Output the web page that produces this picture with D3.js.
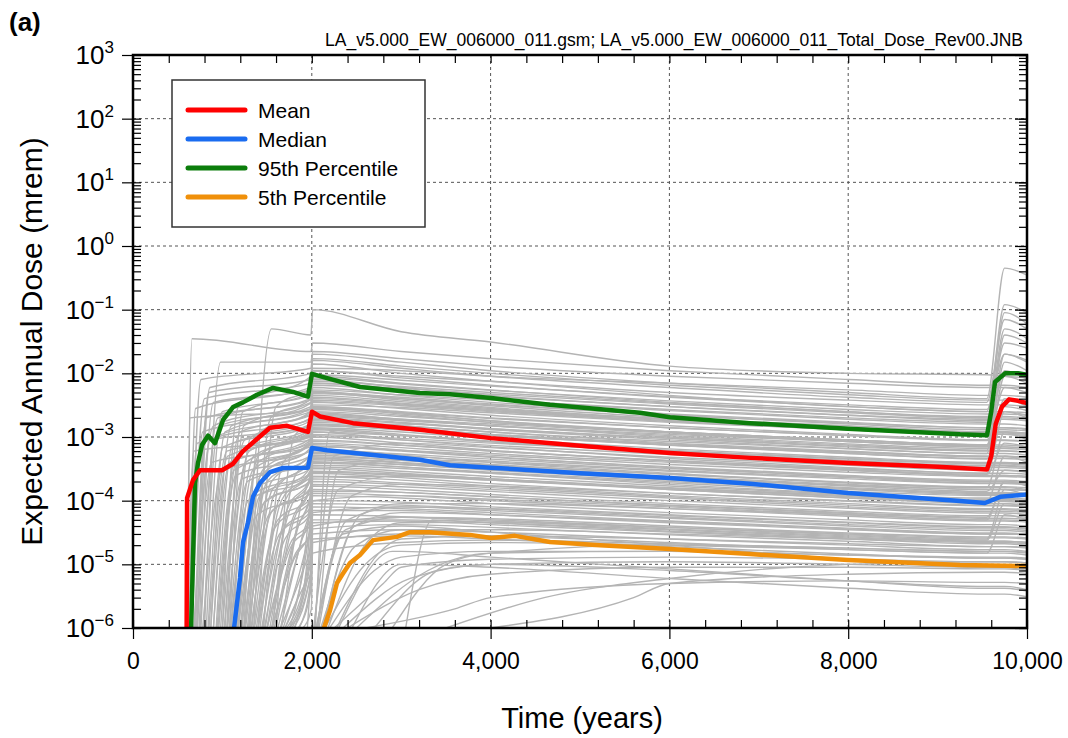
<!DOCTYPE html>
<html>
<head>
<meta charset="utf-8">
<script src="https://cdn.jsdelivr.net/npm/d3@7"></script>
<style>
  body { margin: 0; background: #fff; }
  svg { font-family: "Liberation Sans", Arial, sans-serif; }
</style>
</head>
<body>
<div id="chart"></div>
<script>
// Statistics of the expected annual dose (mrem) vs time (years)
const meanYears = [600, 605, 671, 749, 996, 1119, 1230, 1342, 1532, 1723, 1957, 2002, 2092, 2461, 3210, 4004, 5000, 6007, 6902, 7998, 9000, 9553, 9600, 9650, 9720, 9800, 9900, 10000];
const meanDose = [1e-6, 1.1e-4, 2.1e-4, 3.0e-4, 3.0e-4, 3.8e-4, 6e-4, 8.2e-4, 1.4e-3, 1.5e-3, 1.2e-3, 2.5e-3, 2.1e-3, 1.65e-3, 1.3e-3, 9.6e-4, 7.3e-4, 5.6e-4, 4.7e-4, 3.9e-4, 3.4e-4, 3.1e-4, 5e-4, 1.6e-3, 3.0e-3, 3.9e-3, 3.7e-3, 3.4e-3];

const medianYears = [1130, 1197, 1230, 1286, 1342, 1421, 1532, 1678, 1957, 2002, 2170, 3210, 3546, 4004, 5000, 6007, 6902, 7998, 9251, 9530, 9700, 10000];
const medianDose = [1e-6, 6.1e-6, 2.2e-5, 4.5e-5, 1.15e-4, 1.9e-4, 2.8e-4, 3.26e-4, 3.3e-4, 6.7e-4, 6.2e-4, 4.4e-4, 3.6e-4, 3.3e-4, 2.7e-4, 2.27e-4, 1.85e-4, 1.32e-4, 9.9e-5, 9.2e-5, 1.15e-4, 1.25e-4];

const p95Years = [650, 694, 727, 772, 839, 917, 1007, 1119, 1230, 1387, 1566, 1790, 1957, 2002, 2170, 2539, 3210, 3546, 4004, 4664, 5671, 6007, 6902, 7998, 9251, 9553, 9600, 9642, 9754, 9900, 10000];
const p95Dose = [1e-6, 1.9e-4, 3.9e-4, 7.5e-4, 1.05e-3, 8.0e-4, 1.85e-3, 2.95e-3, 3.5e-3, 4.6e-3, 5.9e-3, 5.1e-3, 4.3e-3, 9.8e-3, 8.4e-3, 6.1e-3, 4.9e-3, 4.7e-3, 4.1e-3, 3.2e-3, 2.4e-3, 2.05e-3, 1.65e-3, 1.35e-3, 1.1e-3, 1.07e-3, 2.5e-3, 7.3e-3, 1.0e-2, 1.0e-2, 9.5e-3];

const p5Years = [2136, 2204, 2282, 2338, 2427, 2539, 2685, 2953, 3098, 3322, 3770, 4004, 4273, 4664, 5224, 6007, 6902, 7998, 9251, 10000];
const p5Dose = [1e-6, 1.9e-6, 5.1e-6, 6.8e-6, 1.05e-5, 1.4e-5, 2.4e-5, 2.7e-5, 3.2e-5, 3.2e-5, 2.9e-5, 2.6e-5, 2.8e-5, 2.24e-5, 2.0e-5, 1.74e-5, 1.45e-5, 1.17e-5, 9.8e-6, 9.4e-6];

// Individual realizations: [onset year, year of first level, first level, then doses at grayYears]
const grayYears = [1990, 2010, 3000, 4000, 6000, 8000, 9550, 9750, 10000];
const realizations = [
  [1300, 1550, 5e-2, 4e-2, 1e-1, 4.5e-2, 3.1e-2, 1.3e-2, 1e-2, 9.5e-3, 9e-3, 8.5e-3],
  [605, 660, 3.5e-2, 2.2e-2, 3e-2, 2.2e-2, 1.7e-2, 1.1e-2, 8e-3, 6.5e-3, 6.5e-3, 6e-3],
  [640, 760, 8e-3, 1.2e-2, 2e-2, 1.5e-2, 1.1e-2, 7e-3, 5e-3, 4e-3, 4.5e-1, 3.5e-1],
  [700, 850, 5e-3, 8e-3, 1.4e-2, 1e-2, 7.5e-3, 4.5e-3, 3e-3, 2.5e-3, 1.2e-1, 9e-2],
  [650, 800, 4e-3, 7e-3, 1.2e-2, 1.1e-2, 9e-3, 7e-3, 5.5e-3, 4.5e-3, 4.5e-3, 4.2e-3],
  [750, 950, 2e-3, 4e-3, 8e-3, 6e-3, 4.5e-3, 3e-3, 2.2e-3, 1.8e-3, 9e-2, 6e-2],
  [680, 900, 1.5e-3, 3.5e-3, 7e-3, 5.5e-3, 4e-3, 2.6e-3, 1.9e-3, 1.6e-3, 1.6e-3, 1.5e-3],
  [820, 1000, 2.5e-3, 4.5e-3, 9e-3, 7e-3, 5.5e-3, 3.5e-3, 2.5e-3, 2e-3, 3e-2, 2.5e-2],
  [900, 1100, 1.5e-3, 3e-3, 6e-3, 4.5e-3, 3.5e-3, 2.3e-3, 1.7e-3, 1.4e-3, 1.4e-3, 1.3e-3],
  [620, 720, 8e-4, 1.5e-3, 3e-3, 2.4e-3, 1.8e-3, 1.2e-3, 9e-4, 7.5e-4, 2e-2, 1.5e-2],
  [950, 1200, 1.2e-3, 2.2e-3, 4.5e-3, 3.6e-3, 2.8e-3, 1.9e-3, 1.4e-3, 1.1e-3, 1.1e-3, 1e-3],
  [1000, 1250, 9e-4, 1.8e-3, 3.5e-3, 2.8e-3, 2.2e-3, 1.5e-3, 1.1e-3, 9e-4, 6e-3, 5e-3],
  [1050, 1300, 6e-4, 1.3e-3, 2.7e-3, 2.2e-3, 1.7e-3, 1.2e-3, 9e-4, 7.5e-4, 7.5e-4, 7e-4],
  [1100, 1350, 5e-4, 1.1e-3, 2.4e-3, 1.9e-3, 1.5e-3, 1e-3, 7.5e-4, 6.2e-4, 1.5e-2, 1.1e-2],
  [850, 1050, 6e-4, 1e-3, 2.1e-3, 1.8e-3, 1.5e-3, 1.1e-3, 8.5e-4, 7e-4, 7e-4, 6.6e-4],
  [1150, 1400, 4e-4, 9e-4, 1.9e-3, 1.5e-3, 1.2e-3, 8e-4, 6e-4, 5e-4, 5e-4, 4.7e-4],
  [1200, 1450, 3e-4, 8e-4, 1.7e-3, 1.4e-3, 1.1e-3, 7.5e-4, 5.5e-4, 4.5e-4, 4e-3, 3e-3],
  [720, 880, 4e-4, 7e-4, 1.5e-3, 1.3e-3, 1.05e-3, 7.5e-4, 5.8e-4, 5e-4, 5e-4, 4.8e-4],
  [1250, 1500, 3e-4, 6.5e-4, 1.35e-3, 1.1e-3, 8.5e-4, 5.8e-4, 4.2e-4, 3.5e-4, 3.5e-4, 3.3e-4],
  [780, 1000, 3e-4, 6e-4, 1.2e-3, 9e-4, 7e-4, 4.6e-4, 3.3e-4, 2.7e-4, 2.5e-3, 2e-3],
  [1300, 1550, 2e-4, 5.5e-4, 1.1e-3, 9.5e-4, 8e-4, 6e-4, 4.5e-4, 3.8e-4, 3.8e-4, 3.6e-4],
  [960, 1150, 2.5e-4, 5e-4, 1e-3, 8e-4, 6.2e-4, 4.2e-4, 3e-4, 2.5e-4, 2.5e-4, 2.4e-4],
  [1350, 1600, 1.5e-4, 4.5e-4, 9e-4, 7.5e-4, 6e-4, 4.2e-4, 3.1e-4, 2.6e-4, 8e-4, 7e-4],
  [1080, 1280, 2e-4, 4e-4, 8e-4, 6.8e-4, 5.5e-4, 4e-4, 3e-4, 2.5e-4, 2.5e-4, 2.4e-4],
  [1400, 1650, 1.2e-4, 3.5e-4, 7.2e-4, 6e-4, 4.8e-4, 3.3e-4, 2.4e-4, 2e-4, 2e-4, 1.9e-4],
  [1170, 1380, 1.6e-4, 3.2e-4, 6.5e-4, 5.2e-4, 4e-4, 2.7e-4, 1.9e-4, 1.6e-4, 1.2e-3, 9e-4],
  [1450, 1700, 1e-4, 2.9e-4, 5.8e-4, 5e-4, 4.2e-4, 3e-4, 2.3e-4, 1.9e-4, 1.9e-4, 1.8e-4],
  [1220, 1420, 1.2e-4, 2.6e-4, 5.2e-4, 4.3e-4, 3.5e-4, 2.4e-4, 1.8e-4, 1.5e-4, 1.5e-4, 1.45e-4],
  [1500, 1750, 7e-5, 2.2e-4, 4.6e-4, 4e-4, 3.3e-4, 2.3e-4, 1.7e-4, 1.4e-4, 3e-4, 2.8e-4],
  [1260, 1480, 1e-4, 2e-4, 4.1e-4, 3.4e-4, 2.7e-4, 1.8e-4, 1.3e-4, 1.1e-4, 1.1e-4, 1.05e-4],
  [1550, 1800, 5e-5, 1.7e-4, 3.6e-4, 3.2e-4, 2.7e-4, 1.9e-4, 1.4e-4, 1.2e-4, 1.2e-4, 1.15e-4],
  [1320, 1560, 7e-5, 1.5e-4, 3.2e-4, 2.7e-4, 2.2e-4, 1.5e-4, 1.1e-4, 9e-5, 9e-5, 8.6e-5],
  [1600, 1850, 4e-5, 1.3e-4, 2.8e-4, 2.5e-4, 2.1e-4, 1.5e-4, 1.1e-4, 9.5e-5, 5e-4, 4e-4],
  [1380, 1620, 5e-5, 1.1e-4, 2.4e-4, 2.1e-4, 1.7e-4, 1.2e-4, 9e-5, 7.5e-5, 7.5e-5, 7.2e-5],
  [1650, 1900, 3e-5, 9e-5, 2e-4, 1.8e-4, 1.5e-4, 1.1e-4, 8e-5, 6.8e-5, 6.8e-5, 6.5e-5],
  [1440, 1680, 3.5e-5, 8e-5, 1.7e-4, 1.5e-4, 1.25e-4, 9e-5, 6.8e-5, 5.8e-5, 5.8e-5, 5.5e-5],
  [1700, 1950, 2e-5, 6e-5, 1.4e-4, 1.35e-4, 1.15e-4, 8.5e-5, 6.5e-5, 5.5e-5, 2e-4, 1.7e-4],
  [1500, 1750, 2e-5, 5e-5, 1.2e-4, 1.1e-4, 9e-5, 6.5e-5, 5e-5, 4.2e-5, 4.2e-5, 4e-5],
  [1750, 1980, 1.2e-5, 1.5e-5, 1e-4, 1.2e-4, 1.05e-4, 8e-5, 6e-5, 5e-5, 5e-5, 4.8e-5],
  [1550, 1800, 1.2e-5, 3.5e-5, 8e-5, 7.5e-5, 6.5e-5, 4.8e-5, 3.7e-5, 3.1e-5, 3.1e-5, 3e-5],
  [1800, 1990, 8e-6, 8e-6, 6.5e-5, 8e-5, 7e-5, 5.3e-5, 4e-5, 3.4e-5, 3.4e-5, 3.2e-5],
  [1650, 1900, 8e-6, 2e-5, 5e-5, 5e-5, 4.5e-5, 3.5e-5, 2.7e-5, 2.3e-5, 2.3e-5, 2.2e-5],
  [1850, 1990, 4e-6, 4e-6, 4e-5, 5.5e-5, 5e-5, 3.8e-5, 2.9e-5, 2.5e-5, 1.5e-4, 1.2e-4],
  [1750, 1950, 4e-6, 8e-6, 3e-5, 3.5e-5, 3.2e-5, 2.5e-5, 2e-5, 1.7e-5, 1.7e-5, 1.6e-5],
  [1900, 1995, 2e-6, 2e-6, 2.2e-5, 3e-5, 2.8e-5, 2.2e-5, 1.7e-5, 1.5e-5, 1.5e-5, 1.4e-5],
  [2020, 2300, 1.5e-4, null, null, 2.5e-4, 2.2e-4, 1.6e-4, 1.2e-4, 1e-4, 1e-4, 9.5e-5],
  [2050, 2400, 5e-5, null, null, 8e-5, 7.5e-5, 5.8e-5, 4.5e-5, 3.8e-5, 3.8e-5, 3.6e-5],
  [2100, 2500, 2e-5, null, null, 3.5e-5, 3.5e-5, 3e-5, 2.5e-5, 2.2e-5, 2.2e-5, 2.1e-5],
  [2150, 2600, 1e-5, null, null, 2e-5, 2.2e-5, 2e-5, 1.7e-5, 1.5e-5, 6e-5, 5e-5],
  [2250, 2800, 5e-6, null, null, 9e-6, 1.2e-5, 1.3e-5, 1.2e-5, 1.1e-5, 1.1e-5, 1.05e-5],
  [2400, 3200, 4e-6, null, null, null, 7e-6, 9e-6, 9e-6, 8.5e-6, 8.5e-6, 8e-6],
  [2600, 3600, 2e-6, null, null, null, 3e-6, 5e-6, 5.5e-6, 5.2e-6, 5.2e-6, 5e-6],
  [3050, 3350, 5e-5, null, null, null, 4.5e-5, 3.3e-5, 2.6e-5, 2.3e-5, 2.3e-5, 2.2e-5],
  [3500, 4600, 3e-6, null, null, null, null, 6e-6, 1e-5, 1.1e-5, 1.1e-5, 1.05e-5],
  [2300, 2900, 1.6e-5, null, null, 1.6e-5, 1.3e-5, 8.5e-6, 5.5e-6, 4.2e-6, 4.2e-6, 3.8e-6],
  [2050, 2350, 3e-5, null, null, 4e-5, 3.2e-5, 2e-5, 1.2e-5, 9e-6, 9e-6, 8e-6],
  [2700, 3400, 8e-6, null, null, null, 1e-5, 8e-6, 5.5e-6, 4.5e-6, 4.5e-6, 4e-6],
  [760, 920, 1e-3, 2.3e-3, 5e-3, 4.2e-3, 3.3e-3, 2.2e-3, 1.6e-3, 1.3e-3, 1.3e-3, 1.25e-3],
  [870, 1030, 1.2e-3, 2.8e-3, 5.5e-3, 4.6e-3, 3.8e-3, 2.7e-3, 2e-3, 1.7e-3, 5e-2, 3.5e-2],
  [690, 820, 2e-3, 3.8e-3, 7.5e-3, 6.2e-3, 5e-3, 3.4e-3, 2.5e-3, 2.1e-3, 2.1e-3, 2e-3],
  [1120, 1320, 1e-3, 2e-3, 4e-3, 3.3e-3, 2.6e-3, 1.8e-3, 1.3e-3, 1.1e-3, 1.1e-3, 1.05e-3],
  [930, 1120, 8e-4, 1.6e-3, 3.2e-3, 2.9e-3, 2.4e-3, 1.7e-3, 1.3e-3, 1.1e-3, 1.1e-2, 8e-3],
  [1030, 1200, 6e-4, 1.4e-3, 2.9e-3, 2.3e-3, 1.8e-3, 1.2e-3, 8.5e-4, 7e-4, 7e-4, 6.7e-4],
  [660, 780, 1.2e-3, 2.5e-3, 5e-3, 3.8e-3, 2.9e-3, 1.9e-3, 1.4e-3, 1.15e-3, 1.15e-3, 1.1e-3],
  [1180, 1400, 5e-4, 1.2e-3, 2.5e-3, 2.1e-3, 1.7e-3, 1.2e-3, 9e-4, 7.6e-4, 2.5e-3, 2.2e-3],
  [800, 980, 1.5e-2, 1.5e-2, 2.2e-2, 1.7e-2, 1.3e-2, 9e-3, 7e-3, 6e-3, 6e-3, 5.8e-3],
  [1400, 1600, 3e-3, 6e-3, 1.1e-2, 9e-3, 7.5e-3, 5e-3, 3.8e-3, 3.2e-3, 3.2e-3, 3e-3],
  [1000, 1180, 3e-3, 9e-3, 1.6e-2, 1.2e-2, 9e-3, 6e-3, 4.2e-3, 3.5e-3, 7e-2, 5e-2],
  [710, 860, 9e-4, 1.9e-3, 3.8e-3, 3.2e-3, 2.6e-3, 1.9e-3, 1.4e-3, 1.2e-3, 1.2e-3, 1.15e-3],
  [840, 1010, 7e-4, 1.5e-3, 3e-3, 2.5e-3, 2e-3, 1.4e-3, 1.05e-3, 9e-4, 9e-4, 8.6e-4],
  [980, 1170, 5e-4, 1.2e-3, 2.3e-3, 1.9e-3, 1.6e-3, 1.15e-3, 8.5e-4, 7.2e-4, 3e-3, 2.6e-3],
  [1060, 1260, 4e-4, 9.5e-4, 2e-3, 1.7e-3, 1.35e-3, 9.5e-4, 7e-4, 6e-4, 6e-4, 5.7e-4],
  [1140, 1340, 3e-4, 8e-4, 1.6e-3, 1.35e-3, 1.1e-3, 7.8e-4, 5.8e-4, 4.9e-4, 4.9e-4, 4.7e-4],
  [1210, 1430, 2.5e-4, 6.8e-4, 1.4e-3, 1.2e-3, 9.5e-4, 6.5e-4, 4.8e-4, 4e-4, 4e-4, 3.8e-4],
  [900, 1080, 4e-4, 8e-4, 1.3e-3, 1.05e-3, 8.4e-4, 5.8e-4, 4.3e-4, 3.6e-4, 3.6e-4, 3.4e-4],
  [1280, 1500, 2e-4, 5.2e-4, 1.05e-3, 9e-4, 7.4e-4, 5.3e-4, 4e-4, 3.3e-4, 3.3e-4, 3.2e-4],
  [1330, 1560, 1.5e-4, 4.2e-4, 8.6e-4, 7.4e-4, 6e-4, 4.3e-4, 3.2e-4, 2.7e-4, 2.7e-4, 2.6e-4],
  [1020, 1220, 2.2e-4, 3.8e-4, 7.6e-4, 6.2e-4, 4.9e-4, 3.4e-4, 2.5e-4, 2.1e-4, 2.1e-4, 2e-4],
  [1420, 1660, 1e-4, 3.1e-4, 6.2e-4, 5.4e-4, 4.5e-4, 3.2e-4, 2.4e-4, 2e-4, 2e-4, 1.9e-4],
  [1160, 1360, 1.3e-4, 2.7e-4, 5.5e-4, 4.6e-4, 3.7e-4, 2.6e-4, 1.9e-4, 1.6e-4, 1.6e-4, 1.5e-4],
  [1480, 1720, 7e-5, 2.4e-4, 4.9e-4, 4.3e-4, 3.6e-4, 2.6e-4, 1.95e-4, 1.65e-4, 1.65e-4, 1.6e-4],
  [1240, 1460, 9e-5, 2.1e-4, 4.4e-4, 3.7e-4, 3e-4, 2.1e-4, 1.55e-4, 1.3e-4, 1.3e-4, 1.25e-4],
  [1530, 1780, 5e-5, 1.8e-4, 3.9e-4, 3.4e-4, 2.8e-4, 2e-4, 1.5e-4, 1.25e-4, 1.25e-4, 1.2e-4],
  [1290, 1520, 6e-5, 1.6e-4, 3.4e-4, 2.9e-4, 2.4e-4, 1.7e-4, 1.25e-4, 1.05e-4, 1.05e-4, 1e-4],
  [1580, 1830, 3.5e-5, 1.2e-4, 2.9e-4, 2.6e-4, 2.2e-4, 1.55e-4, 1.15e-4, 9.7e-5, 9.7e-5, 9.3e-5],
  [1360, 1600, 4e-5, 1e-4, 2.2e-4, 1.9e-4, 1.6e-4, 1.15e-4, 8.5e-5, 7.2e-5, 7.2e-5, 6.9e-5],
  [1620, 1880, 2.2e-5, 7.5e-5, 1.8e-4, 1.65e-4, 1.4e-4, 1e-4, 7.6e-5, 6.4e-5, 6.4e-5, 6.1e-5],
  [1470, 1700, 2.5e-5, 6.5e-5, 1.5e-4, 1.35e-4, 1.15e-4, 8.3e-5, 6.3e-5, 5.3e-5, 5.3e-5, 5.1e-5],
  [600, 640, 2e-3, 2.6e-3, 5.2e-3, 4e-3, 3.1e-3, 2e-3, 1.5e-3, 1.2e-3, 1.2e-3, 1.1e-3],
  [610, 680, 6e-4, 9e-4, 1.8e-3, 1.5e-3, 1.2e-3, 8.5e-4, 6.5e-4, 5.5e-4, 9e-3, 7e-3],
  [630, 700, 2.8e-3, 6e-3, 1.1e-2, 8.5e-3, 6.5e-3, 4.2e-3, 3e-3, 2.5e-3, 2.5e-3, 2.4e-3],
  [740, 900, 3.5e-3, 5.5e-3, 9.5e-3, 7.8e-3, 6.3e-3, 4.3e-3, 3.2e-3, 2.7e-3, 2e-2, 1.6e-2],
  [1080, 1240, 1.5e-3, 3.4e-3, 6.5e-3, 5.3e-3, 4.3e-3, 3e-3, 2.2e-3, 1.9e-3, 1.9e-3, 1.8e-3],
  [1240, 1420, 1.2e-3, 2.5e-3, 4.8e-3, 4e-3, 3.2e-3, 2.2e-3, 1.65e-3, 1.4e-3, 1.4e-3, 1.35e-3],
  [1600, 1800, 1e-3, 1.8e-3, 3.6e-3, 3.1e-3, 2.5e-3, 1.75e-3, 1.3e-3, 1.1e-3, 4e-2, 3e-2],
  [2030, 2250, 5e-4, null, null, 8e-4, 6.8e-4, 4.8e-4, 3.6e-4, 3e-4, 3e-4, 2.9e-4],
  [2080, 2450, 1.2e-4, null, null, 1.8e-4, 1.7e-4, 1.3e-4, 1e-4, 8.5e-5, 8.5e-5, 8.1e-5],
  [2120, 2550, 6e-5, null, null, 9e-5, 9e-5, 7.5e-5, 6e-5, 5e-5, 2e-4, 1.8e-4],
  [1950, 2000, 1e-5, null, 1.5e-5, 2.2e-5, 2.4e-5, 2.1e-5, 1.8e-5, 1.6e-5, 1.6e-5, 1.55e-5],
  [2200, 2700, 8e-6, null, null, 1.3e-5, 1.6e-5, 1.6e-5, 1.4e-5, 1.3e-5, 1.3e-5, 1.25e-5],
  [2350, 3100, 6e-6, null, null, null, 1e-5, 1.1e-5, 1e-5, 9e-6, 9e-6, 8.6e-6],
  [1700, 1960, 6e-6, 7e-6, 2.5e-5, 2.8e-5, 2.5e-5, 1.9e-5, 1.45e-5, 1.25e-5, 1.25e-5, 1.2e-5],
  [2450, 3000, 1e-5, null, null, 1e-5, 9e-6, 6e-6, 4.2e-6, 3.4e-6, 3.4e-6, 3.1e-6],
  [1680, 1920, 1.5e-5, 4e-5, 1e-4, 9.5e-5, 8e-5, 6e-5, 4.6e-5, 3.9e-5, 3.9e-5, 3.7e-5],
  [1720, 1960, 1e-5, 2.8e-5, 7e-5, 7e-5, 6e-5, 4.5e-5, 3.5e-5, 3e-5, 3e-5, 2.9e-5],
  [1560, 1820, 1.5e-5, 3e-5, 6e-5, 5.6e-5, 4.8e-5, 3.6e-5, 2.8e-5, 2.4e-5, 9e-5, 8e-5],
  [1780, 1970, 8e-6, 1.2e-5, 4.5e-5, 4.8e-5, 4.2e-5, 3.2e-5, 2.5e-5, 2.1e-5, 2.1e-5, 2e-5],
  [2060, 2380, 3.5e-5, null, null, 5.5e-5, 5.2e-5, 4e-5, 3.1e-5, 2.7e-5, 2.7e-5, 2.6e-5],
  [2130, 2480, 4e-5, null, null, 6.5e-5, 6e-5, 4.7e-5, 3.6e-5, 3e-5, 3e-5, 2.9e-5],
  [2180, 2650, 2.5e-5, null, null, 4.5e-5, 4.6e-5, 3.8e-5, 3e-5, 2.6e-5, 2.6e-5, 2.5e-5],
  [2280, 2750, 1.5e-5, null, null, 2.5e-5, 2.8e-5, 2.5e-5, 2.1e-5, 1.9e-5, 1.9e-5, 1.8e-5],
  [1860, 1990, 6e-6, 6e-6, 3.6e-5, 4.2e-5, 3.8e-5, 2.9e-5, 2.3e-5, 1.9e-5, 1.9e-5, 1.85e-5],
  [2500, 3300, 8e-6, null, null, null, 1.5e-5, 1.6e-5, 1.4e-5, 1.25e-5, 1.25e-5, 1.2e-5],
  [1400, 1640, 3e-5, 7e-5, 1.3e-4, 1.2e-4, 1e-4, 7.5e-5, 5.7e-5, 4.8e-5, 4.8e-5, 4.6e-5],
  [1500, 1760, 1.8e-5, 4.5e-5, 9e-5, 8.5e-5, 7.4e-5, 5.5e-5, 4.2e-5, 3.6e-5, 3.6e-5, 3.4e-5],
  [1180, 1390, 6e-5, 1.3e-4, 2.7e-4, 2.3e-4, 1.85e-4, 1.3e-4, 9.8e-5, 8.3e-5, 8.3e-5, 8e-5],
  [1090, 1290, 1e-4, 2.3e-4, 4.7e-4, 3.9e-4, 3.1e-4, 2.2e-4, 1.6e-4, 1.35e-4, 1.35e-4, 1.3e-4],
  [940, 1130, 3e-4, 7.5e-4, 1.55e-3, 1.3e-3, 1.05e-3, 7.4e-4, 5.5e-4, 4.6e-4, 4.6e-4, 4.4e-4],
  [870, 1060, 5e-4, 1.1e-3, 2.2e-3, 1.85e-3, 1.5e-3, 1.05e-3, 7.8e-4, 6.6e-4, 6.6e-4, 6.3e-4],
  [790, 960, 1.5e-3, 2.8e-3, 4.2e-3, 3.4e-3, 2.7e-3, 1.9e-3, 1.4e-3, 1.2e-3, 1.2e-3, 1.15e-3],
  [1310, 1520, 6e-4, 1.4e-3, 2.8e-3, 2.4e-3, 1.95e-3, 1.4e-3, 1.05e-3, 8.8e-4, 8.8e-4, 8.4e-4],
  [1460, 1680, 4e-4, 9e-4, 1.9e-3, 1.65e-3, 1.35e-3, 9.6e-4, 7.2e-4, 6.1e-4, 6.1e-4, 5.8e-4],
  [1560, 1790, 2e-4, 5.5e-4, 1.2e-3, 1.05e-3, 8.6e-4, 6.2e-4, 4.6e-4, 3.9e-4, 3.9e-4, 3.7e-4],
  [1660, 1890, 1e-4, 3e-4, 7e-4, 6.2e-4, 5.2e-4, 3.7e-4, 2.8e-4, 2.4e-4, 2.4e-4, 2.3e-4],
  [1750, 1960, 5e-5, 1.6e-4, 4e-4, 3.7e-4, 3.1e-4, 2.3e-4, 1.75e-4, 1.5e-4, 1.5e-4, 1.45e-4],
  [1810, 1975, 3e-5, 6e-5, 2.4e-4, 2.4e-4, 2.1e-4, 1.55e-4, 1.2e-4, 1e-4, 1e-4, 9.6e-5],
  [1050, 1230, 2.5e-3, 5e-3, 8.5e-3, 6.8e-3, 5.4e-3, 3.7e-3, 2.7e-3, 2.3e-3, 2.3e-3, 2.2e-3],
  [1350, 1540, 2e-3, 4e-3, 7e-3, 5.8e-3, 4.7e-3, 3.3e-3, 2.4e-3, 2e-3, 2e-3, 1.9e-3],
  [720, 860, 6e-3, 1e-2, 1.7e-2, 1.3e-2, 1e-2, 6.5e-3, 4.6e-3, 3.8e-3, 3.8e-3, 3.6e-3],
  [2040, 2200, 1.2e-3, null, null, 1.6e-3, 1.3e-3, 9e-4, 6.6e-4, 5.5e-4, 5.5e-4, 5.2e-4],
  [2070, 2300, 3e-4, null, null, 4.5e-4, 4e-4, 2.9e-4, 2.2e-4, 1.85e-4, 1.85e-4, 1.8e-4],
  [2900, 3500, 1e-5, null, null, null, 1.5e-5, 2e-5, 1.8e-5, 1.6e-5, 1.6e-5, 1.5e-5],
  [4000, 5600, 3e-6, null, null, null, null, 5e-6, 7e-6, 7.5e-6, 7.5e-6, 7.2e-6]
];

const xTicks = [0, 2000, 4000, 6000, 8000, 10000];
const decades = [1e-6, 1e-5, 1e-4, 1e-3, 1e-2, 1e-1, 1e0, 1e1, 1e2, 1e3];
const legendNames = ['Mean', 'Median', '95th Percentile', '5th Percentile'];
const seriesColors = ['#ff0000', '#1a6cf0', '#0b7d0b', '#f0900a'];

const width = 1068, height = 738;
const plotLeft = 133, plotRight = 1027, plotTop = 55, plotBottom = 628;

const svg = d3.select('#chart').append('svg')
    .attr('width', width)
    .attr('height', height);

const x = d3.scaleLinear().domain([0, 10000]).range([plotLeft, plotRight]);
const y = d3.scaleLog().domain([1e-6, 1e3]).range([plotBottom, plotTop]);

svg.append('clipPath').attr('id', 'plot-clip')
    .append('rect')
    .attr('x', plotLeft).attr('y', plotTop)
    .attr('width', plotRight - plotLeft).attr('height', plotBottom - plotTop);

//grid
const grid = svg.append('g').attr('stroke', '#555').attr('stroke-width', 1).attr('stroke-dasharray', '3,3');
grid.selectAll('.vgrid')
    .data(xTicks.slice(1, -1))
    .join('line')
    .attr('x1', d => x(d)).attr('x2', d => x(d))
    .attr('y1', plotTop).attr('y2', plotBottom);
grid.selectAll('.hgrid')
    .data(decades.slice(1, -1))
    .join('line')
    .attr('x1', plotLeft).attr('x2', plotRight)
    .attr('y1', d => y(d)).attr('y2', d => y(d));

//realizations
const realizationPoints = row => {
    const [t0, t1, v1, ...rest] = row;
    const pts = [[t0, 1e-6], [t1, v1]];
    rest.forEach((v, i) => {
        if (v != null && grayYears[i] > t1) pts.push([grayYears[i], v]);
    });
    return pts;
};

const grayLine = d3.line()
    .x(d => x(d[0]))
    .y(d => y(d[1]))
    .curve(d3.curveMonotoneX);

const plot = svg.append('g').attr('clip-path', 'url(#plot-clip)');

plot.append('g')
    .selectAll('path')
    .data(realizations.map(realizationPoints))
    .join('path')
    .attr('d', grayLine)
    .attr('fill', 'none')
    .attr('stroke', '#b4b4b4')
    .attr('stroke-width', 1.4);

//statistics
const statSeries = [
    { years: p5Years, dose: p5Dose, color: seriesColors[3] },
    { years: medianYears, dose: medianDose, color: seriesColors[1] },
    { years: p95Years, dose: p95Dose, color: seriesColors[2] },
    { years: meanYears, dose: meanDose, color: seriesColors[0] }
];

const statLine = d3.line()
    .x(d => x(d[0]))
    .y(d => y(d[1]));

plot.append('g')
    .selectAll('path')
    .data(statSeries)
    .join('path')
    .attr('d', s => statLine(s.years.map((t, i) => [t, s.dose[i]])))
    .attr('fill', 'none')
    .attr('stroke', s => s.color)
    .attr('stroke-width', 4.5)
    .attr('stroke-linejoin', 'round');

//axes
const minorX = d3.range(0, 10001, 400);
const minorY = y.ticks();

const styleAxis = g => {
    g.select('.domain').remove();
    g.selectAll('.tick line').attr('stroke', '#000').attr('stroke-width', 1.2);
};

svg.append('g').attr('transform', `translate(0,${plotBottom})`)
    .call(d3.axisBottom(x).tickValues(minorX).tickSize(-8).tickFormat(''))
    .call(styleAxis);
svg.append('g').attr('transform', `translate(0,${plotTop})`)
    .call(d3.axisTop(x).tickValues(minorX).tickSize(-8).tickFormat(''))
    .call(styleAxis);
svg.append('g').attr('transform', `translate(0,${plotBottom})`)
    .call(d3.axisBottom(x).tickValues(xTicks).tickSize(11).tickPadding(14).tickFormat(d3.format(',')))
    .call(styleAxis)
    .call(g => g.selectAll('text').attr('font-size', 23).attr('fill', '#000'))
    .attr('font-family', null);

svg.append('g').attr('transform', `translate(${plotLeft},0)`)
    .call(d3.axisLeft(y).tickValues(minorY).tickSize(-8).tickFormat(''))
    .call(styleAxis);
svg.append('g').attr('transform', `translate(${plotLeft},0)`)
    .call(d3.axisLeft(y).tickValues(decades).tickSize(11).tickFormat(''))
    .call(styleAxis);
svg.append('g').attr('transform', `translate(${plotRight},0)`)
    .call(d3.axisRight(y).tickValues(minorY).tickSize(-8).tickFormat(''))
    .call(styleAxis);
svg.append('g').attr('transform', `translate(${plotRight},0)`)
    .call(d3.axisRight(y).tickValues(decades).tickSize(-12).tickFormat(''))
    .call(styleAxis);

const yLabels = svg.append('g')
    .selectAll('text')
    .data(decades)
    .join('text')
    .attr('x', 114)
    .attr('y', d => y(d) + 9)
    .attr('text-anchor', 'end')
    .attr('font-size', 26);
yLabels.append('tspan').text('10');
yLabels.append('tspan')
    .attr('dy', -11)
    .attr('font-size', 17)
    .text(d => String(Math.round(Math.log10(d))).replace('-', '\u2212'));

//frame
svg.append('rect')
    .attr('x', plotLeft).attr('y', plotTop)
    .attr('width', plotRight - plotLeft).attr('height', plotBottom - plotTop)
    .attr('fill', 'none')
    .attr('stroke', '#000')
    .attr('stroke-width', 2.5);

//titles
svg.append('text')
    .attr('x', 582)
    .attr('y', 728)
    .attr('text-anchor', 'middle')
    .attr('font-size', 29)
    .text('Time (years)');

svg.append('text')
    .attr('transform', `translate(42,${(plotTop + plotBottom) / 2}) rotate(-90)`)
    .attr('text-anchor', 'middle')
    .attr('font-size', 30)
    .text('Expected Annual Dose (mrem)');

svg.append('text')
    .attr('x', 9).attr('y', 31)
    .attr('font-size', 26)
    .attr('font-weight', 'bold')
    .text('(a)');

svg.append('text')
    .attr('x', 1023).attr('y', 46)
    .attr('text-anchor', 'end')
    .attr('font-size', 17.5)
    .text('LA_v5.000_EW_006000_011.gsm; LA_v5.000_EW_006000_011_Total_Dose_Rev00.JNB');

//legend
const legend = svg.append('g').attr('transform', 'translate(172,80)');
legend.append('rect')
    .attr('width', 253).attr('height', 147)
    .attr('fill', '#fff')
    .attr('stroke', '#333')
    .attr('stroke-width', 1.5);

const legendItem = legend.selectAll('.item')
    .data(legendNames)
    .join('g')
    .attr('transform', (d, i) => `translate(0,${30 + i * 29})`);
legendItem.append('line')
    .attr('x1', 16).attr('x2', 73)
    .attr('stroke', (d, i) => seriesColors[i])
    .attr('stroke-width', 5)
    .attr('stroke-linecap', 'round');
legendItem.append('text')
    .attr('x', 86).attr('y', 8)
    .attr('font-size', 21)
    .text(d => d);
</script>
</body>
</html>
